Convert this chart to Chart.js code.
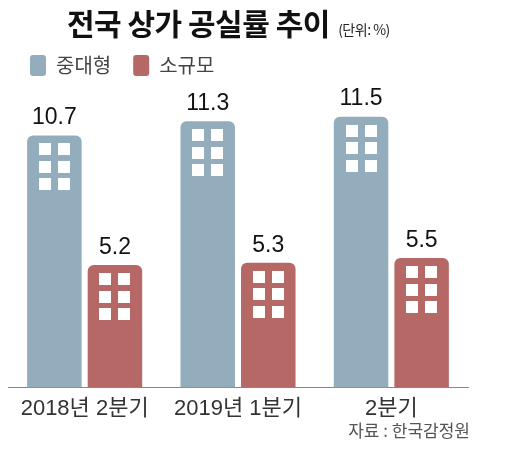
<!DOCTYPE html>
<html>
<head>
<meta charset="utf-8">
<script src="https://cdn.jsdelivr.net/npm/chart.js@4.4.1/dist/chart.umd.min.js"></script>
<style>
  body { margin: 0; background: #fff; }
  #wrap { position: relative; width: 532px; height: 453px; }
  #title { position: absolute; left: 67px; top: 7px; font: bold 30px/30px "Noto Sans CJK KR", sans-serif; color: #111; white-space: nowrap; letter-spacing: -0.5px; }
  #title small { font: 14px "Noto Sans CJK KR", sans-serif; color: #222; letter-spacing: -0.5px; margin-left: 2px; }
  #source { position: absolute; right: 62px; top: 420px; font: 17px/19px "Noto Sans CJK KR", sans-serif; color: #555; white-space: pre; }
  canvas { position: absolute; left: 0; top: 0; }
</style>
</head>
<body>
<div id="wrap">
  <canvas id="chart" width="532" height="453"></canvas>
  <div id="title">전국 상가 공실률 추이 <small>(단위: %)</small></div>
  <div id="source">자료 : 한국감정원</div>
</div>
<script>
// 데이터
const categories = ['2018년 2분기', '2019년 1분기', '2분기'];
const seriesNames = ['중대형', '소규모'];
const midLarge = [10.7, 11.3, 11.5];
const small = [5.2, 5.3, 5.5];

const colors = ['#94adbc', '#b66866'];

// 막대 위 숫자
const valueLabels = {
  id: 'valueLabels',
  afterDatasetsDraw(chart) {
    const ctx = chart.ctx;
    ctx.save();
    ctx.font = '23px "Liberation Sans", Arial, sans-serif';
    ctx.fillStyle = '#111';
    ctx.textAlign = 'center';
    ctx.textBaseline = 'bottom';
    chart.data.datasets.forEach((ds, i) => {
      chart.getDatasetMeta(i).data.forEach((bar, j) => {
        ctx.fillText(ds.data[j].toFixed(1), bar.x, bar.y - 6);
      });
    });
    ctx.restore();
  }
};

// 건물 창문 (2x3)
const windows = {
  id: 'windows',
  afterDatasetsDraw(chart) {
    const ctx = chart.ctx;
    const size = 12, gapX = 7, gapY = 5.5;
    ctx.save();
    ctx.fillStyle = '#fff';
    chart.data.datasets.forEach((ds, i) => {
      chart.getDatasetMeta(i).data.forEach(bar => {
        const left = bar.x - (size * 2 + gapX) / 2;
        for (let r = 0; r < 3; r++) {
          for (let c = 0; c < 2; c++) {
            ctx.fillRect(Math.round(left + c * (size + gapX)), Math.round(bar.y + 8 + r * (size + gapY)), size, size);
          }
        }
      });
    });
    ctx.restore();
  }
};

new Chart(document.getElementById('chart'), {
  type: 'bar',
  data: {
    labels: categories,
    datasets: [
      { label: seriesNames[0], data: midLarge, backgroundColor: colors[0] },
      { label: seriesNames[1], data: small, backgroundColor: colors[1] }
    ]
  },
  options: {
    responsive: false,
    animation: false,
    categoryPercentage: 0.79,
    barPercentage: 0.9,
    borderRadius: { topLeft: 6, topRight: 6 },
    borderSkipped: 'bottom',
    layout: { padding: { top: 33, left: 8, right: 64, bottom: 31 } },
    scales: {
      x: {
        grid: { display: false },
        border: { display: true, color: '#888', width: 1 },
        ticks: {
          color: '#333',
          padding: 0,
          font: { size: 22, family: '"Liberation Sans", "Noto Sans CJK KR", sans-serif' }
        }
      },
      y: {
        display: false,
        min: 0,
        max: 12.8
      }
    },
    plugins: {
      legend: {
        position: 'top',
        align: 'start',
        labels: {
          boxWidth: 16,
          boxHeight: 21,
          useBorderRadius: true,
          borderRadius: 3,
          padding: 22,
          color: '#444',
          font: { size: 20, family: '"Noto Sans CJK KR", sans-serif' }
        }
      },
      tooltip: { enabled: false }
    }
  },
  plugins: [valueLabels, windows]
});
</script>
</body>
</html>
